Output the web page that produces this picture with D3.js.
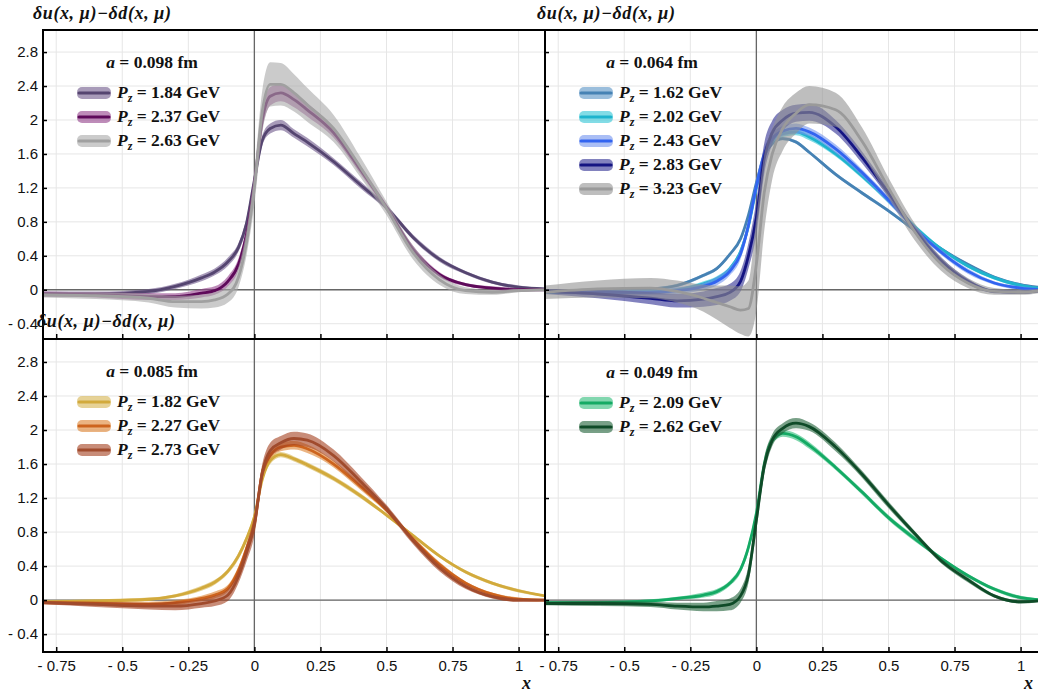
<!DOCTYPE html>
<html>
<head>
<meta charset="utf-8">
<script src="https://cdn.jsdelivr.net/npm/d3@7"></script>
<style>
  body { margin: 0; background: #fff; }
  svg { display: block; }
  .tick text { font-family: "Liberation Sans", Arial, sans-serif; font-size: 15px; fill: #111; }
  .math { font-family: "Liberation Serif", "Times New Roman", serif; font-weight: bold; fill: #111; }
</style>
</head>
<body>
<svg id="chart" width="1038" height="699"></svg>
<script>
// Momentum fractions at which the distributions are sampled
const xGrid = [-0.8, -0.6, -0.4, -0.3, -0.2, -0.15, -0.1, -0.06, -0.03, 0, 0.03, 0.06, 0.1, 0.15, 0.2, 0.3, 0.4, 0.5, 0.6, 0.7, 0.8, 0.9, 1.0, 1.1];

const xTicks = [-0.75, -0.5, -0.25, 0, 0.25, 0.5, 0.75, 1];
const xTickLabels = ["- 0.75", "- 0.5", "- 0.25", "0", "0.25", "0.5", "0.75", "1"];
const yTicks = [-0.4, 0, 0.4, 0.8, 1.2, 1.6, 2, 2.4, 2.8];
const yTickLabels = ["- 0.4", "0", "0.4", "0.8", "1.2", "1.6", "2", "2.4", "2.8"];

// a = 0.098 fm
const a098Momenta = ["1.84", "2.37", "2.63"];
const a098Pz184 = [-0.05, -0.05, -0.02, 0.04, 0.14, 0.21, 0.33, 0.5, 0.78, 1.29, 1.76, 1.9, 1.94, 1.84, 1.74, 1.51, 1.24, 0.97, 0.62, 0.36, 0.2, 0.09, 0.03, 0.01];
const a098Pz184Err = [0.03, 0.03, 0.03, 0.03, 0.04, 0.04, 0.05, 0.05, 0.06, 0.06, 0.06, 0.06, 0.06, 0.05, 0.05, 0.04, 0.04, 0.03, 0.03, 0.03, 0.02, 0.02, 0.02, 0.01];
const a098Pz237 = [-0.05, -0.06, -0.08, -0.08, -0.04, -0.01, 0.1, 0.3, 0.65, 1.25, 2.0, 2.28, 2.32, 2.24, 2.12, 1.85, 1.42, 0.97, 0.48, 0.18, 0.06, 0.02, 0.0, 0.0];
const a098Pz237Err = [0.03, 0.03, 0.04, 0.04, 0.05, 0.05, 0.06, 0.07, 0.08, 0.1, 0.11, 0.11, 0.1, 0.09, 0.08, 0.06, 0.05, 0.04, 0.04, 0.03, 0.02, 0.02, 0.02, 0.01];
const a098Pz263 = [-0.06, -0.07, -0.1, -0.14, -0.14, -0.12, -0.05, 0.15, 0.55, 1.2, 2.1, 2.42, 2.42, 2.32, 2.18, 1.9, 1.45, 0.96, 0.44, 0.12, -0.01, -0.03, -0.01, 0.0];
const a098Pz263Err = [0.03, 0.04, 0.05, 0.07, 0.08, 0.09, 0.1, 0.12, 0.15, 0.2, 0.25, 0.26, 0.25, 0.22, 0.2, 0.16, 0.12, 0.08, 0.08, 0.06, 0.04, 0.03, 0.02, 0.01];

// a = 0.064 fm
const a064Momenta = ["1.62", "2.02", "2.43", "2.83", "3.23"];
const a064Pz162 = [-0.03, -0.01, 0.01, 0.05, 0.17, 0.25, 0.42, 0.6, 0.88, 1.26, 1.58, 1.72, 1.78, 1.74, 1.62, 1.36, 1.14, 0.93, 0.7, 0.48, 0.3, 0.15, 0.06, 0.02];
const a064Pz162Err = [0.015, 0.015, 0.015, 0.02, 0.02, 0.02, 0.02, 0.02, 0.02, 0.02, 0.02, 0.02, 0.02, 0.02, 0.02, 0.02, 0.02, 0.02, 0.02, 0.02, 0.015, 0.015, 0.015, 0.01];
const a064Pz202 = [-0.03, -0.03, -0.02, 0.0, 0.07, 0.13, 0.25, 0.45, 0.75, 1.2, 1.58, 1.76, 1.84, 1.86, 1.8, 1.6, 1.34, 1.05, 0.74, 0.48, 0.28, 0.14, 0.05, 0.01];
const a064Pz202Err = [0.02, 0.02, 0.02, 0.02, 0.03, 0.03, 0.03, 0.04, 0.05, 0.06, 0.05, 0.04, 0.04, 0.04, 0.04, 0.03, 0.03, 0.03, 0.03, 0.02, 0.02, 0.02, 0.02, 0.01];
const a064Pz243 = [-0.02, -0.03, -0.03, -0.01, 0.04, 0.1, 0.22, 0.42, 0.76, 1.22, 1.6, 1.78, 1.87, 1.9, 1.86, 1.66, 1.38, 1.06, 0.72, 0.44, 0.22, 0.08, 0.02, 0.0];
const a064Pz243Err = [0.02, 0.03, 0.03, 0.04, 0.04, 0.05, 0.05, 0.06, 0.07, 0.08, 0.07, 0.06, 0.06, 0.06, 0.05, 0.05, 0.04, 0.04, 0.03, 0.03, 0.03, 0.02, 0.02, 0.01];
const a064Pz283 = [-0.02, -0.05, -0.1, -0.13, -0.11, -0.08, -0.03, 0.1, 0.4, 0.85, 1.55, 1.85, 2.0, 2.08, 2.09, 1.92, 1.56, 1.14, 0.7, 0.34, 0.1, -0.02, -0.03, 0.0];
const a064Pz283Err = [0.03, 0.05, 0.07, 0.08, 0.09, 0.1, 0.1, 0.12, 0.15, 0.2, 0.18, 0.14, 0.12, 0.1, 0.1, 0.08, 0.07, 0.05, 0.04, 0.04, 0.03, 0.02, 0.02, 0.01];
const a064Pz323 = [-0.03, 0.01, 0.02, -0.02, -0.1, -0.15, -0.2, -0.24, -0.22, 0.3, 1.15, 1.6, 1.9, 2.08, 2.18, 2.12, 1.75, 1.2, 0.68, 0.3, 0.08, -0.02, -0.03, 0.0];
const a064Pz323Err = [0.08, 0.1, 0.12, 0.13, 0.16, 0.2, 0.25, 0.28, 0.33, 0.55, 0.45, 0.3, 0.26, 0.24, 0.22, 0.2, 0.16, 0.12, 0.1, 0.08, 0.06, 0.04, 0.03, 0.02];

// a = 0.085 fm
const a085Momenta = ["1.82", "2.27", "2.73"];
const a085Pz182 = [-0.02, -0.01, 0.01, 0.05, 0.14, 0.21, 0.34, 0.52, 0.72, 0.98, 1.42, 1.64, 1.71, 1.66, 1.59, 1.43, 1.23, 1.0, 0.76, 0.52, 0.33, 0.2, 0.11, 0.05];
const a085Pz182Err = [0.02, 0.02, 0.02, 0.02, 0.03, 0.03, 0.03, 0.04, 0.04, 0.05, 0.04, 0.04, 0.03, 0.03, 0.03, 0.03, 0.03, 0.02, 0.02, 0.02, 0.02, 0.02, 0.02, 0.01];
const a085Pz227 = [-0.03, -0.04, -0.05, -0.03, 0.02, 0.06, 0.14, 0.35, 0.6, 0.9, 1.5, 1.7, 1.8, 1.82, 1.78, 1.6, 1.34, 1.06, 0.72, 0.42, 0.2, 0.07, 0.01, 0.0];
const a085Pz227Err = [0.02, 0.02, 0.03, 0.03, 0.03, 0.04, 0.04, 0.05, 0.06, 0.07, 0.06, 0.05, 0.05, 0.05, 0.05, 0.04, 0.04, 0.03, 0.03, 0.03, 0.02, 0.02, 0.02, 0.01];
const a085Pz273 = [-0.03, -0.05, -0.07, -0.07, -0.04, -0.01, 0.06, 0.28, 0.55, 0.88, 1.5, 1.76, 1.85, 1.9, 1.88, 1.7, 1.4, 1.08, 0.7, 0.38, 0.16, 0.04, 0.0, 0.0];
const a085Pz273Err = [0.02, 0.03, 0.04, 0.05, 0.05, 0.06, 0.07, 0.08, 0.1, 0.12, 0.1, 0.09, 0.08, 0.08, 0.08, 0.07, 0.06, 0.04, 0.04, 0.04, 0.03, 0.02, 0.02, 0.01];

// a = 0.049 fm
const a049Momenta = ["2.09", "2.62"];
const a049Pz209 = [-0.03, -0.03, -0.01, 0.02, 0.06, 0.1, 0.2, 0.36, 0.62, 1.02, 1.6, 1.88, 1.96, 1.92, 1.82, 1.56, 1.27, 0.97, 0.72, 0.49, 0.29, 0.13, 0.03, 0.0];
const a049Pz209Err = [0.02, 0.02, 0.02, 0.02, 0.03, 0.03, 0.03, 0.04, 0.05, 0.05, 0.05, 0.04, 0.04, 0.04, 0.04, 0.03, 0.03, 0.03, 0.03, 0.02, 0.02, 0.02, 0.02, 0.01];
const a049Pz262 = [-0.04, -0.04, -0.05, -0.07, -0.08, -0.07, -0.05, 0.05, 0.3, 0.94, 1.58, 1.88, 2.02, 2.08, 2.04, 1.8, 1.48, 1.12, 0.78, 0.46, 0.24, 0.05, -0.02, 0.0];
const a049Pz262Err = [0.02, 0.03, 0.03, 0.04, 0.05, 0.06, 0.07, 0.08, 0.1, 0.12, 0.1, 0.07, 0.06, 0.06, 0.05, 0.05, 0.04, 0.04, 0.03, 0.03, 0.03, 0.02, 0.02, 0.01];

// Line / band colours per ensemble
const a098Lines = ["#554570", "#5e0a5a", "#a0a0a0"];
const a098Bands = ["#6e588a", "#933f8a", "#a8a8a8"];
const a064Lines = ["#4682b4", "#1eb4cd", "#3264f0", "#141482", "#9a9a9a"];
const a064Bands = ["#5893c5", "#2fc5d5", "#7193ee", "#2f2f93", "#939393"];
const a085Lines = ["#d2aa3c", "#cd641e", "#a04b2d"];
const a085Bands = ["#d5b450", "#de822f", "#a33f1e"];
const a049Lines = ["#14aa64", "#0f4b28"];
const a049Bands = ["#2fbc7a", "#1e6137"];

const xDomain = [-0.8, 1.1];
const plotWidth = 502;

function makeSeries(momenta, centrals, errors, lines, bands) {
  return momenta.map((m, i) => ({
    pz: m,
    line: lines[i],
    band: bands[i],
    pts: xGrid.map((x, k) => ({ x, y: centrals[i][k], e: errors[i][k] }))
  }));
}

const panels = [
  {
    left: 43, top: 30, bottom: 339, yDomain: [-0.58, 3.06], spacing: "0.098",
    yLabels: true, xLabels: false, yTitle: [33, 19], legend: [77, 152, 68],
    series: makeSeries(a098Momenta, [a098Pz184, a098Pz237, a098Pz263],
      [a098Pz184Err, a098Pz237Err, a098Pz263Err], a098Lines, a098Bands)
  },
  {
    left: 545, top: 30, bottom: 339, yDomain: [-0.58, 3.06], spacing: "0.064",
    yLabels: false, xLabels: false, yTitle: [537, 19], legend: [579, 652, 68],
    series: makeSeries(a064Momenta, [a064Pz162, a064Pz202, a064Pz243, a064Pz283, a064Pz323],
      [a064Pz162Err, a064Pz202Err, a064Pz243Err, a064Pz283Err, a064Pz323Err], a064Lines, a064Bands)
  },
  {
    left: 43, top: 339, bottom: 652, yDomain: [-0.61, 3.07], spacing: "0.085",
    yLabels: true, xLabels: true, yTitle: [37, 327], legend: [77, 152, 377],
    series: makeSeries(a085Momenta, [a085Pz182, a085Pz227, a085Pz273],
      [a085Pz182Err, a085Pz227Err, a085Pz273Err], a085Lines, a085Bands)
  },
  {
    left: 545, top: 339, bottom: 652, yDomain: [-0.61, 3.07], spacing: "0.049",
    yLabels: false, xLabels: true, yTitle: null, legend: [579, 652, 378],
    series: makeSeries(a049Momenta, [a049Pz209, a049Pz262],
      [a049Pz209Err, a049Pz262Err], a049Lines, a049Bands)
  }
];

const svg = d3.select("#chart");
const bandOpacity = 0.6;

function drawPanel(p, idx) {
  const right = p.left + plotWidth;
  const x = d3.scaleLinear().domain(xDomain).range([p.left, right]);
  const y = d3.scaleLinear().domain(p.yDomain).range([p.bottom, p.top]);
  const g = svg.append("g");

  const clipId = "clip" + idx;
  svg.append("clipPath").attr("id", clipId)
    .append("rect").attr("x", p.left).attr("y", p.top)
    .attr("width", plotWidth).attr("height", p.bottom - p.top);

  // grid
  const grid = g.append("g").attr("stroke", "#e6e6e6").attr("stroke-width", 1);
  grid.selectAll("line.gx").data(xTicks).join("line")
    .attr("x1", d => x(d)).attr("x2", d => x(d)).attr("y1", p.top).attr("y2", p.bottom);
  grid.selectAll("line.gy").data(yTicks).join("line")
    .attr("x1", p.left).attr("x2", right).attr("y1", d => y(d)).attr("y2", d => y(d));

  // zero axes
  g.append("line").attr("x1", x(0)).attr("x2", x(0)).attr("y1", p.top).attr("y2", p.bottom)
    .attr("stroke", "#666").attr("stroke-width", 1.3);
  g.append("line").attr("x1", p.left).attr("x2", right).attr("y1", y(0)).attr("y2", y(0))
    .attr("stroke", "#666").attr("stroke-width", 1.3);

  // bands and central curves
  const plot = g.append("g").attr("clip-path", `url(#${clipId})`);
  const curve = d3.curveMonotoneX;
  const area = d3.area().x(d => x(d.x)).y0(d => y(d.y - d.e)).y1(d => y(d.y + d.e)).curve(curve);
  const line = d3.line().x(d => x(d.x)).y(d => y(d.y)).curve(curve);
  p.series.forEach(s => {
    plot.append("path").attr("d", area(s.pts)).attr("fill", s.band).attr("fill-opacity", bandOpacity);
    plot.append("path").attr("d", line(s.pts)).attr("fill", "none")
      .attr("stroke", s.line).attr("stroke-width", 2.8).attr("stroke-linejoin", "round");
  });

  // axes
  const yAxis = d3.axisLeft(y).tickValues(yTicks).tickSize(-4).tickPadding(5)
    .tickFormat((d, i) => p.yLabels ? yTickLabels[i] : "");
  const ya = g.append("g").attr("transform", `translate(${p.left},0)`).call(yAxis);
  ya.select(".domain").remove();
  ya.selectAll(".tick line").attr("stroke", "#000").attr("stroke-width", 1.5);

  const xAxis = d3.axisBottom(x).tickValues(xTicks).tickSize(-5).tickPadding(8)
    .tickFormat((d, i) => p.xLabels ? xTickLabels[i] : "");
  const xa = g.append("g").attr("transform", `translate(0,${p.bottom})`).call(xAxis);
  xa.select(".domain").remove();
  xa.selectAll(".tick line").attr("stroke", "#000").attr("stroke-width", 1.5);

  // frame
  g.append("rect").attr("x", p.left).attr("y", p.top).attr("width", plotWidth).attr("height", p.bottom - p.top)
    .attr("fill", "none").attr("stroke", "#000").attr("stroke-width", 2);

  // legend
  const [sx, cx, tb] = p.legend;
  const title = g.append("text").attr("class", "math").attr("x", cx).attr("y", tb)
    .attr("text-anchor", "middle").attr("font-size", 17.5);
  title.append("tspan").attr("font-style", "italic").text("a");
  title.append("tspan").text(" = " + p.spacing + " fm");

  p.series.forEach((s, i) => {
    const base = tb + 30 + i * 24;
    const cy = base - 5;
    g.append("rect").attr("x", sx).attr("y", cy - 6).attr("width", 34).attr("height", 12).attr("rx", 5)
      .attr("fill", s.band).attr("fill-opacity", bandOpacity);
    g.append("line").attr("x1", sx + 2).attr("x2", sx + 32).attr("y1", cy).attr("y2", cy)
      .attr("stroke", s.line).attr("stroke-width", 3).attr("stroke-linecap", "round");
    const t = g.append("text").attr("class", "math").attr("x", sx + 40).attr("y", base).attr("font-size", 17.5);
    t.append("tspan").attr("font-style", "italic").text("P");
    t.append("tspan").attr("font-style", "italic").attr("font-size", 12).attr("dy", 4).text("z");
    t.append("tspan").attr("dy", -4).text(" = " + s.pz + " GeV");
  });

  // axis titles
  if (p.yTitle) {
    svg.append("text").attr("class", "math").attr("x", p.yTitle[0]).attr("y", p.yTitle[1])
      .attr("font-size", 18).attr("font-style", "italic").attr("letter-spacing", 0.6)
      .text("\u03B4u(x, \u03BC)\u2212\u03B4d(x, \u03BC)");
  }
  if (p.xLabels) {
    svg.append("text").attr("class", "math").attr("x", x(1.03)).attr("y", 689)
      .attr("text-anchor", "middle").attr("font-size", 18).attr("font-style", "italic").text("x");
  }
}

panels.forEach(drawPanel);
</script>
</body>
</html>
